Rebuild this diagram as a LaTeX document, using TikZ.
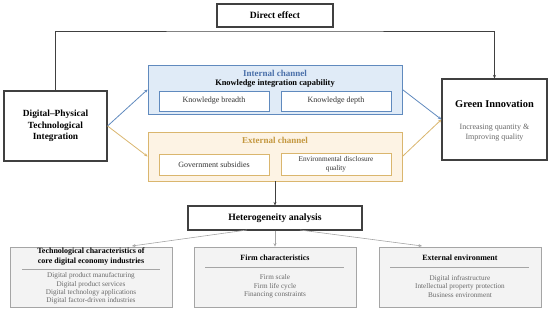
\documentclass[tikz,border=0pt]{standalone}
\usepackage{fontspec}
\setmainfont{Liberation Serif}
\usetikzlibrary{arrows.meta,positioning}

\definecolor{chblue}{RGB}{96,138,190}
\definecolor{chbluefill}{RGB}{224,235,247}
\definecolor{chgold}{RGB}{218,182,110}
\definecolor{chgoldfill}{RGB}{253,243,228}
\definecolor{txblue}{RGB}{74,112,170}
\definecolor{txgold}{RGB}{196,152,64}
\definecolor{gbox}{RGB}{243,243,243}
\definecolor{gline}{RGB}{165,165,165}
\definecolor{gtext}{RGB}{105,105,105}

\begin{document}
\begin{tikzpicture}[x=1pt, y=-1pt,
        mainbox/.style={draw=black!75, line width=1.1pt, fill=white, align=center, font=\bfseries},
        chanbox/.style={line width=0.8pt, minimum width=254pt, minimum height=49pt},
        itembox/.style={fill=white, line width=0.6pt, minimum width=110pt, minimum height=20pt, align=center, font=\fontsize{8}{8.5}\selectfont, text=black!80},
        grpbox/.style={draw=gline, line width=0.7pt, fill=gbox, minimum width=162pt, minimum height=60pt},
        grptitle/.style={font=\fontsize{8}{10}\selectfont\bfseries, align=center},
        grpitems/.style={font=\fontsize{7.2}{8.4}\selectfont, text=gtext, align=center},
        arr/.style={-{Stealth[length=3.5pt, width=3pt]}, line width=0.8pt}]
    \useasboundingbox (0,0) rectangle (550,312);

    % top row
    \node (direct) [mainbox, minimum width=116pt, minimum height=23pt, font=\fontsize{9.6}{10}\selectfont\bfseries] at (275, 15.5) {Direct effect};
    \node (dpti) [mainbox, minimum width=103pt, minimum height=70pt, font=\fontsize{9.4}{11.5}\selectfont\bfseries] at (55.5, 126) {Digital--Physical\\Technological\\Integration};
    \node (green) [mainbox, minimum width=105pt, minimum height=81pt] at (494.5, 119.5) {};
    \node (greenT) [font=\fontsize{10.4}{12}\selectfont\bfseries] at (494.5, 104) {Green Innovation};
    \node (greenS) [font=\fontsize{8}{9.6}\selectfont, text=gtext, align=center] at (494.5, 133) {Increasing quantity \&\\Improving quality};

    % channels
    \node (inner) [chanbox, draw=chblue, fill=chbluefill] at (275, 89.5) {};
    \node (innerT) [font=\fontsize{9}{9}\selectfont\bfseries, text=txblue] at (275, 73) {Internal channel};
    \node (innerS) [font=\fontsize{8.4}{9}\selectfont\bfseries] at (275, 84) {Knowledge integration capability};
    \node (breadth) [itembox, draw=chblue] at (214, 101) {Knowledge breadth};
    \node (depth) [itembox, draw=chblue] at (336, 101) {Knowledge depth};

    \node (outer) [chanbox, draw=chgold, fill=chgoldfill] at (275, 156.5) {};
    \node (outerT) [font=\fontsize{9}{9}\selectfont\bfseries, text=txgold] at (275, 140) {External channel};
    \node (subsidy) [itembox, draw=chgold, minimum height=21pt] at (214, 164.5) {Government subsidies};
    \node (disclose) [itembox, draw=chgold, minimum height=21pt, font=\fontsize{7.3}{8.6}\selectfont] at (336, 164.5) {Environmental disclosure\\quality};

    % heterogeneity
    \node (hetero) [mainbox, minimum width=174pt, minimum height=24pt, font=\fontsize{9.7}{10}\selectfont\bfseries] at (275, 218) {Heterogeneity analysis};

    \node (tech) [grpbox] at (91, 277) {};
    \node (techT) [grptitle] at (91, 257) {Technological characteristics of\\core digital economy industries};
    \node (techI) [grpitems] at (91, 288.5) {Digital product manufacturing\\Digital product services\\Digital technology applications\\Digital factor-driven industries};
    \draw [gline, line width=0.5pt] (22, 269) -- (160, 269);

    \node (firm) [grpbox] at (275, 277) {};
    \node (firmT) [grptitle] at (275, 258) {Firm characteristics};
    \node (firmI) [grpitems] at (275, 286.5) {Firm scale\\Firm life cycle\\Financing constraints};
    \draw [gline, line width=0.5pt] (205, 267) -- (344, 267);

    \node (env) [grpbox] at (460, 277) {};
    \node (envT) [grptitle] at (460, 258) {External environment};
    \node (envI) [grpitems] at (460, 286.5) {Digital infrastructure\\Intellectual property protection\\Business environment};
    \draw [gline, line width=0.5pt] (390, 267) -- (529, 267);

    % connectors
    \coordinate (bend) at (275, 31);
    \coordinate (hetL) at (247, 230);
    \coordinate (hetR) at (300, 230);
    \coordinate (techIn) at (132, 246);
    \coordinate (envIn) at (422, 246);
    \draw[arr, black!75] (dpti.north) |- (bend) -| (green.north);
    \draw[arr, chblue] (dpti.east) -- (inner.west);
    \draw[arr, chgold] (dpti.east) -- (outer.west);
    \draw[arr, chblue] (inner.east) -- (green.west);
    \draw[arr, chgold] (outer.east) -- (green.west);
    \draw[arr, black!75] (outer.south) -- (hetero.north);
    \draw[arr, gline, line width=0.6pt] (hetL) -- (techIn);
    \draw[arr, gline, line width=0.6pt] (hetero.south) -- (firm.north);
    \draw[arr, gline, line width=0.6pt] (hetR) -- (envIn);
\end{tikzpicture}
\end{document}
